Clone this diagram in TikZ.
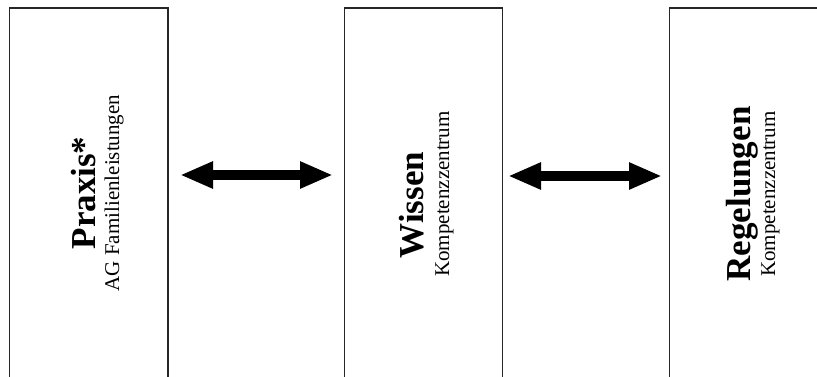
\documentclass[tikz,border=0pt]{standalone}
\usepackage{fontspec}
\setmainfont{Liberation Serif}
\usetikzlibrary{arrows.meta}
\tikzset{
  panel/.style={draw=black!85, line width=1.3pt, fill=none, minimum width=158.5pt, minimum height=382pt, inner sep=0pt},
  titletext/.style={rotate=90, anchor=base, inner sep=0pt, font=\fontsize{35}{38}\selectfont\bfseries},
  subtext/.style={rotate=90, anchor=base, inner sep=0pt, font=\fontsize{21}{24}\selectfont},
  biarrow/.style={line width=10pt, {Triangle[length=33pt,width=25pt]}-{Triangle[length=33pt,width=25pt]}}
}
\begin{document}
\begin{tikzpicture}[x=1pt,y=1pt]
\useasboundingbox (0,0) rectangle (817,376);
\clip (0,0) rectangle (817,376);
% panels (top edge at y=8 from image top)
\node[panel] (left) at (88.75,177) {};
\node[panel] (mid) at (423.5,177) {};
\node[panel] (right) at (748.5,177) {};
% texts
\node[titletext] (t1) at (95,183) {Praxis*};
\node[subtext] (s1) at (119,183) {AG Familienleistungen};
\node[titletext] (t2) at (423,171) {Wissen};
\node[subtext] (s2) at (449,182) {Kompetenzzentrum};
\node[titletext] (t3) at (750,182) {Regelungen};
\node[subtext] (s3) at (775,182) {Kompetenzzentrum};
% arrows
\coordinate (a1) at (180,201);
\coordinate (a2) at (333,201);
\coordinate (b1) at (508,200);
\coordinate (b2) at (662,200);
\draw[biarrow] (a1) -- (a2);
\draw[biarrow] (b1) -- (b2);
\end{tikzpicture}
\end{document}
